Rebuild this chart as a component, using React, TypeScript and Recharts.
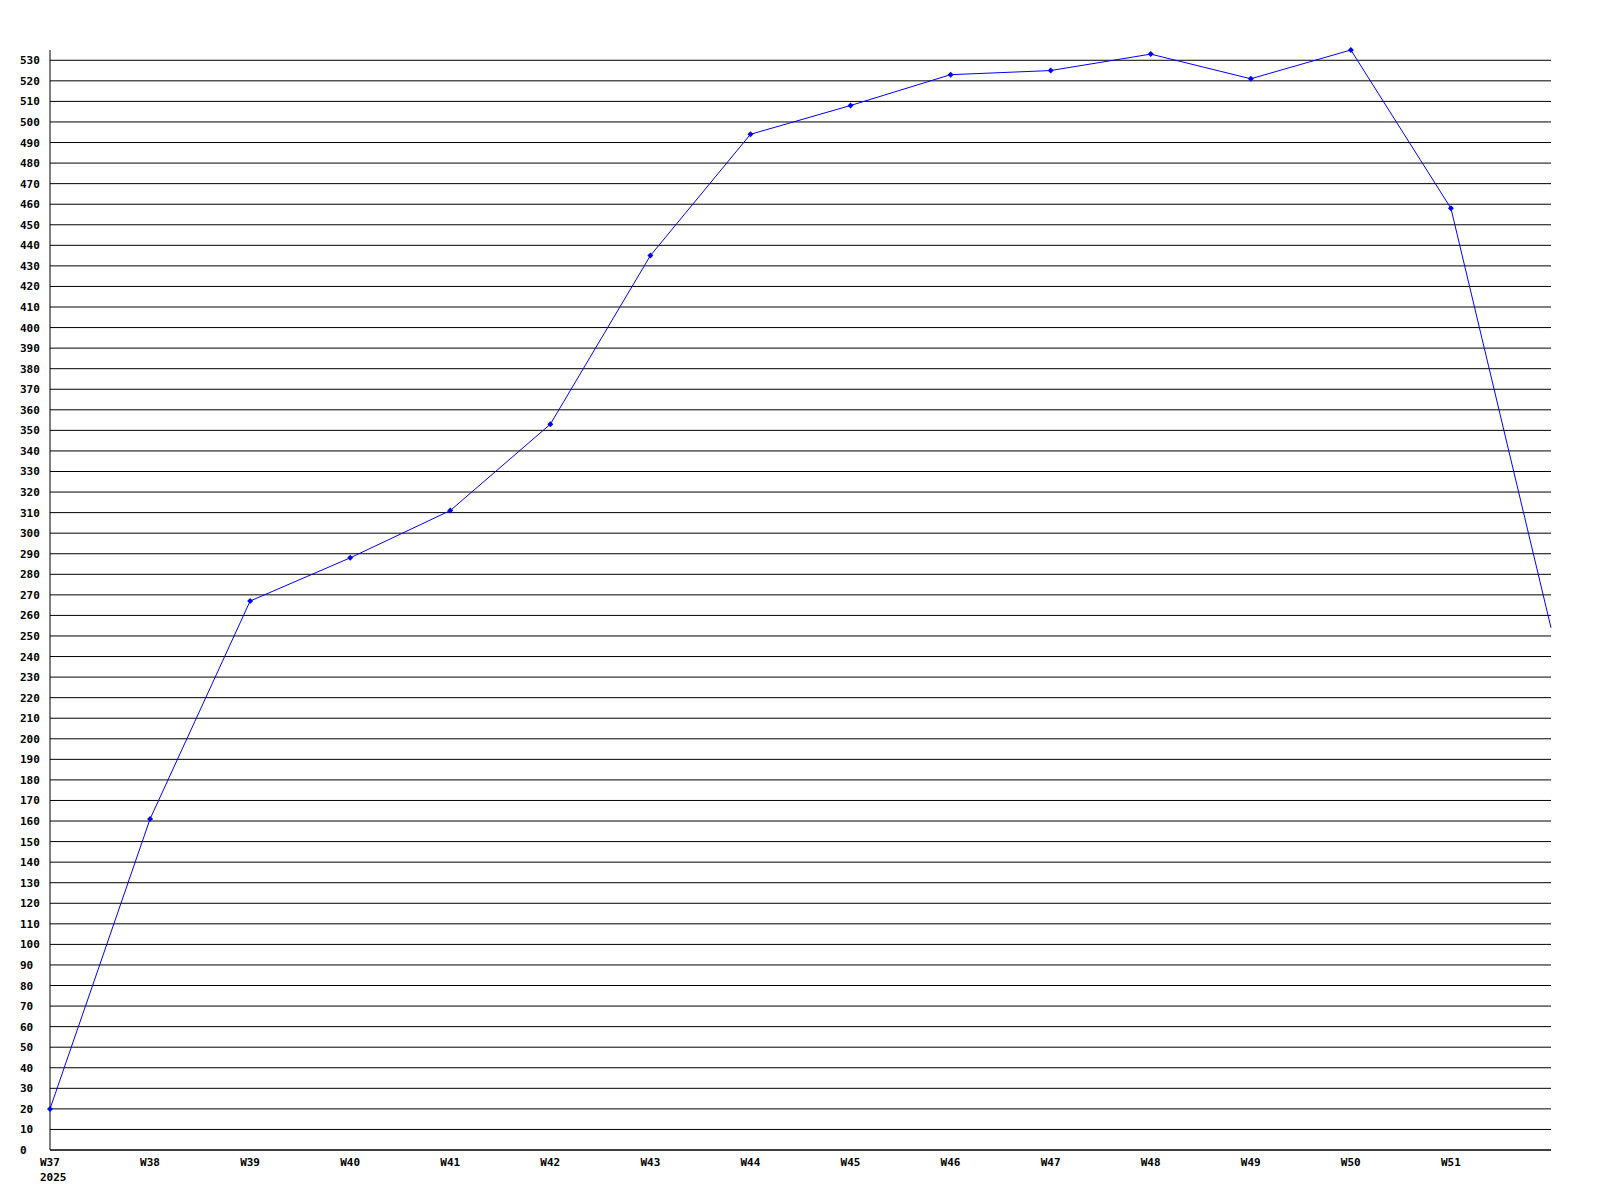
import { CartesianGrid, Line, LineChart, XAxis, YAxis } from 'recharts';

// week labels along the bottom (last point has no label)
const weeks = ['W37', 'W38', 'W39', 'W40', 'W41', 'W42', 'W43', 'W44', 'W45', 'W46', 'W47', 'W48', 'W49', 'W50', 'W51', ''];
const year = '2025';
// weekly counts
const counts = [20, 161, 267, 288, 311, 353, 435, 494, 508, 523, 525, 533, 521, 535, 458, 254];
// y ticks, every 10 from 0 to 530
const yTicks = [
  0, 10, 20, 30, 40, 50, 60, 70, 80, 90, 100, 110, 120, 130, 140, 150, 160, 170, 180, 190,
  200, 210, 220, 230, 240, 250, 260, 270, 280, 290, 300, 310, 320, 330, 340, 350, 360, 370,
  380, 390, 400, 410, 420, 430, 440, 450, 460, 470, 480, 490, 500, 510, 520, 530,
];

const font = '"DejaVu Sans Mono", monospace';

const chartData = counts.map((v, i) => ({ idx: i, value: v }));

function XTick(props: any) {
  const { x, y, payload } = props;
  const label = weeks[payload.value] ?? '';
  return (
    <g>
      <text x={x - 10} y={y + 16} fontFamily={font} fontWeight="bold" fontSize={11} fill="#000">
        {label}
      </text>
      {payload.value === 0 && (
        <text x={x - 10} y={y + 31} fontFamily={font} fontWeight="bold" fontSize={11} fill="#000">
          {year}
        </text>
      )}
    </g>
  );
}

function YTick(props: any) {
  const { x, y, payload } = props;
  return (
    <text x={x - 30} y={y + 4} fontFamily={font} fontWeight="bold" fontSize={11} fill="#000">
      {payload.value}
    </text>
  );
}

function Marker(props: any) {
  const { cx, cy, index } = props;
  if (cx == null || cy == null || index === counts.length - 1) return null;
  return <path d={`M${cx},${cy - 3}L${cx + 3},${cy}L${cx},${cy + 3}L${cx - 3},${cy}Z`} fill="#0000ff" />;
}

export default function App() {
  return (
    <div style={{ position: 'absolute', left: 0, top: 0, width: 1600, height: 1200, background: '#fff' }}>
      <LineChart width={1600} height={1200} data={chartData} margin={{ top: 50, right: 49, left: 0, bottom: 0 }}>
        <CartesianGrid vertical={false} stroke="#000" strokeWidth={1} syncWithTicks />
        <XAxis
          dataKey="idx"
          type="number"
          domain={[0, 15]}
          ticks={weeks.map((_, i) => i)}
          height={50}
          tickLine={false}
          tickSize={0}
          tickMargin={0}
          axisLine={{ stroke: '#000' }}
          tick={<XTick />}
          interval={0}
        />
        <YAxis
          type="number"
          domain={[0, 535]}
          ticks={yTicks}
          width={50}
          tickLine={false}
          tickSize={0}
          tickMargin={0}
          axisLine={{ stroke: '#000' }}
          tick={<YTick />}
          interval={0}
        />
        <Line
          type="linear"
          dataKey="value"
          stroke="#0000ff"
          strokeWidth={1}
          dot={<Marker />}
          activeDot={false}
          isAnimationActive={false}
        />
      </LineChart>
    </div>
  );
}
